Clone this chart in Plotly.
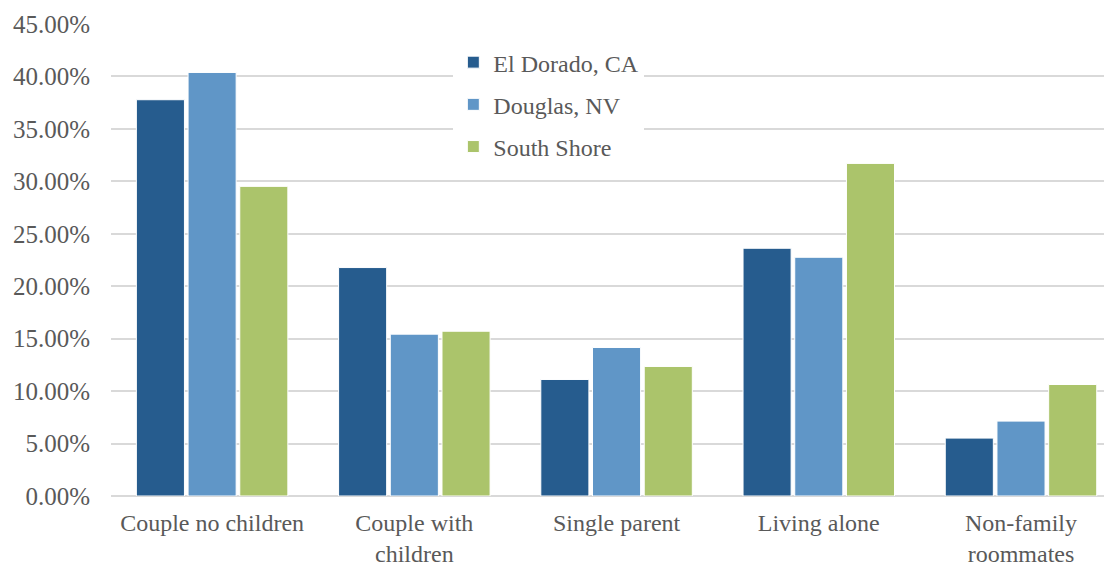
import plotly.graph_objects as go

categories = ["Couple no children", "Couple with<br>children", "Single parent", "Living alone", "Non-family<br>roommates"]
series_names = ["El Dorado, CA", "Douglas, NV", "South Shore"]
el_dorado = [37.78, 21.78, 11.11, 23.62, 5.52]
douglas = [40.38, 15.43, 14.16, 22.76, 7.14]
south_shore = [29.52, 15.71, 12.35, 31.71, 10.63]
colors = ["#265C8E", "#6096C7", "#ABC46B"]
y_ticks = [0, 5, 10, 15, 20, 25, 30, 35, 40, 45]

FONT = "Liberation Serif"
GRAY = "#595959"

fig = go.Figure()
for i, (name, vals) in enumerate(zip(series_names, [el_dorado, douglas, south_shore])):
    fig.add_trace(go.Bar(
        x=categories, y=[v / 100 for v in vals], name=name,
        marker=dict(color=colors[i], line=dict(color="white", width=1)),
        legendgroup=name,
    ))

fig.update_layout(
    width=1104, height=558,
    margin=dict(l=103, r=0, t=16, b=70),
    plot_bgcolor="white", paper_bgcolor="white",
    barmode="group", bargap=0.233, bargroupgap=0.07,
    font=dict(family=FONT, size=25, color=GRAY),
    legend=dict(
        x=0.342, y=0.966, xanchor="left", yanchor="top",
        bgcolor="white", font=dict(family=FONT, size=24, color=GRAY),
        tracegroupgap=8, itemwidth=30,
    ),
    xaxis=dict(showgrid=False, showline=False, ticks="", automargin=False,
               range=[-0.5, 4.45],
               tickfont=dict(size=24, color=GRAY), ticklabelstandoff=10),
    yaxis=dict(
        range=[0, 0.45], tickvals=[t / 100 for t in y_ticks], tickformat=".2%",
        showgrid=True, gridcolor="#D9D9D9", gridwidth=1.5,
        zeroline=True, zerolinecolor="#D9D9D9", zerolinewidth=2,
        ticks="", automargin=False,
        tickfont=dict(size=25, color=GRAY), ticklabelstandoff=20,
    ),
)

fig.write_html("out.html")
